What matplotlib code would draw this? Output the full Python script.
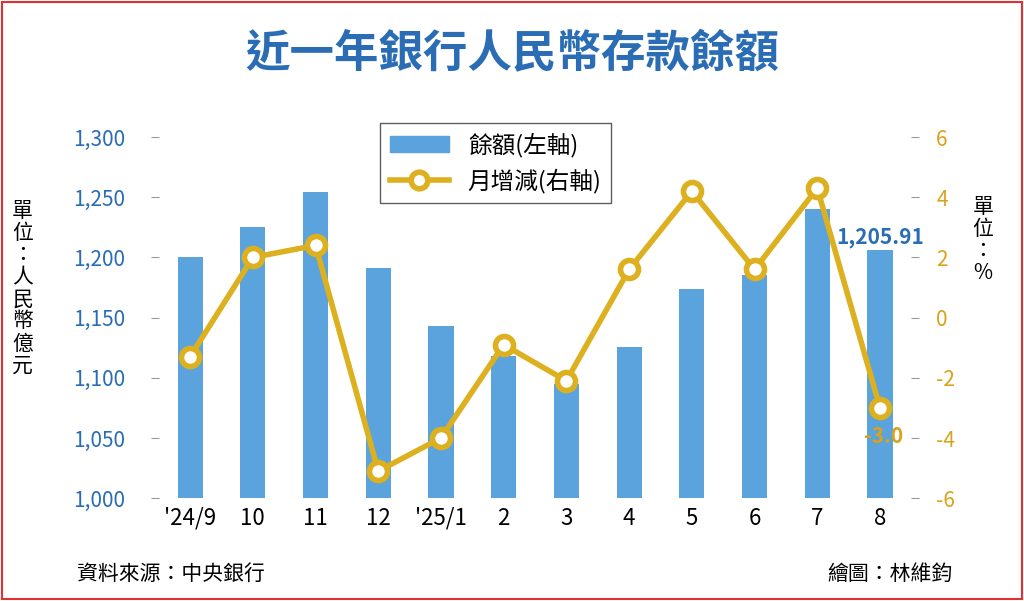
import matplotlib
matplotlib.use("Agg")
import matplotlib.pyplot as plt
from matplotlib.patches import Rectangle, Patch
from matplotlib.lines import Line2D

plt.rcParams['font.family'] = ['Noto Sans CJK TC', 'DejaVu Sans']

months = ["'24/9", "10", "11", "12", "'25/1", "2", "3", "4", "5", "6", "7", "8"]
balance = [1200, 1225, 1254, 1191, 1143, 1118, 1095, 1126, 1174, 1185, 1240, 1205.91]
change = [-1.3, 2.0, 2.4, -5.1, -4.0, -0.9, -2.1, 1.6, 4.2, 1.6, 4.3, -3.0]

blue = '#5aa3dc'
gold = '#dcb01e'
tblue = '#2a6db5'

fig = plt.figure(figsize=(10.24, 6.01), dpi=100)
fig.patches.append(Rectangle((0.002, 0.003), 0.996, 0.994, transform=fig.transFigure,
                             fill=False, edgecolor='#e03030', lw=1.5))
ax = fig.add_axes([0.155, 0.171, 0.735, 0.601])
x = range(len(months))
ax.bar(x, balance, width=0.4, color=blue, zorder=1)
ax.set_ylim(1000, 1300)
ax.set_xlim(-0.5, 11.5)
ax.set_yticks(range(1000, 1301, 50))
ax.set_yticklabels([f"{v:,}" for v in range(1000, 1301, 50)], color=tblue, fontsize=15)
ax.set_xticks(list(x))
ax.set_xticklabels(months, fontsize=16)
for s in ax.spines.values():
    s.set_visible(False)
ax.tick_params(axis='y', length=6, color='#999999', pad=18)
ax.tick_params(axis='x', length=0, pad=6)

ax2 = ax.twinx()
ax2.plot(x, change, color=gold, lw=4, marker='o', ms=13, mfc='white', mec=gold, mew=4, zorder=5)
ax2.set_ylim(-6, 6)
ax2.set_yticks(range(-6, 7, 2))
ax2.set_yticklabels([str(v) for v in range(-6, 7, 2)], color='#d9a21a', fontsize=15)
ax2.tick_params(axis='y', length=6, color='#999999', pad=12)
for s in ax2.spines.values():
    s.set_visible(False)

ax.text(11, 1208, f"{balance[-1]:,.2f}", ha='center', va='bottom', color=tblue,
        fontsize=15, fontweight='bold')
ax2.text(10.75, change[-1] - 0.6, f"{change[-1]:.1f}", ha='left', va='top', color='#d9a21a',
         fontsize=15, fontweight='bold')

h = [Patch(color=blue), Line2D([], [], color=gold, lw=4, marker='o', ms=12, mfc='white', mec=gold, mew=4)]
fig.legend(h, ['餘額(左軸)', '月增減(右軸)'], loc='upper left', bbox_to_anchor=(0.36, 0.815),
           fontsize=17, frameon=True, fancybox=False, edgecolor='#333333', handlelength=2.5)

fig.text(0.5, 0.91, '近一年銀行人民幣存款餘額', ha='center', va='center', fontsize=32,
         fontweight='bold', color=tblue)
fig.text(0.022, 0.52, '單\n位\n：\n人\n民\n幣\n億\n元', ha='center', va='center', fontsize=15, linespacing=1.0)
fig.text(0.96, 0.60, '單\n位\n：\n%', ha='center', va='center', fontsize=15, linespacing=1.0)
fig.text(0.075, 0.045, '資料來源：中央銀行', ha='left', va='center', fontsize=15)
fig.text(0.93, 0.045, '繪圖：林維鈞', ha='right', va='center', fontsize=15)

fig.savefig('out.png', dpi=100)
